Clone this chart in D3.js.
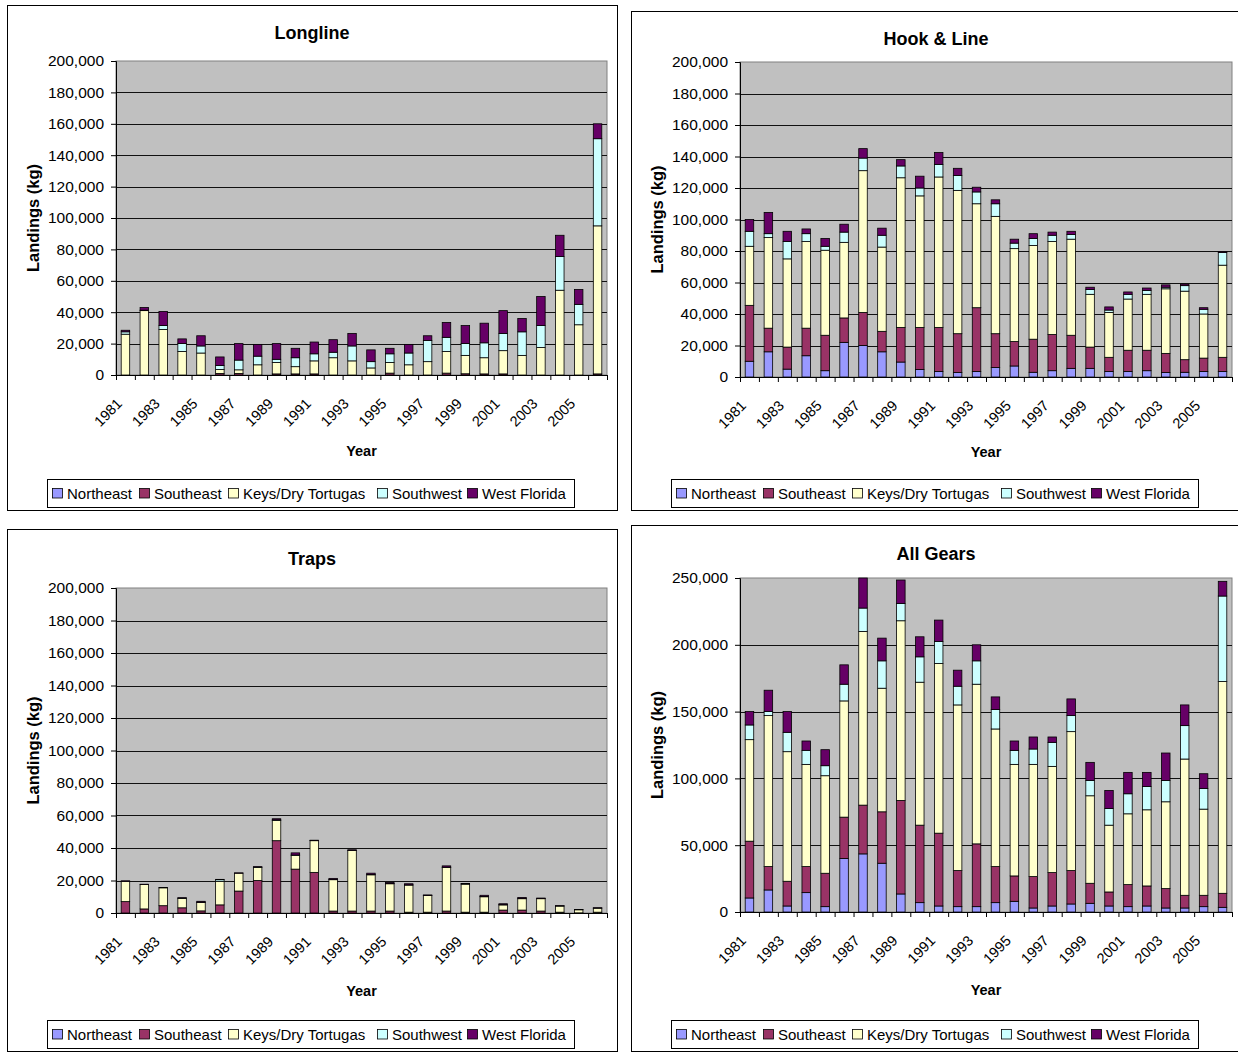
<!DOCTYPE html>
<html>
<head>
<meta charset="utf-8">
<script src="https://cdn.jsdelivr.net/npm/d3@7"></script>
<style>
  html, body { margin: 0; padding: 0; background: #fff; overflow: hidden; }
  text { font-family: "Liberation Sans", Arial, sans-serif; fill: #000; }
</style>
</head>
<body>
<div id="chart"></div>
<script>
var years = d3.range(1981, 2007).map(String);
var regions = ["Northeast", "Southeast", "Keys/Dry Tortugas", "Southwest", "West Florida"];
var regionColors = ["#9999FF", "#993366", "#FFFFCC", "#CCFFFF", "#660066"];

// values, kg per region, 1981-2006
var longlineNortheast = [0,0,0,0,0,0,0,0,0,0,0,0,0,0,0,0,0,0,0,0,0,0,0,0,0,0];
var longlineSoutheast = [0,0,0,0,0,1000,1000,0,700,700,700,0,0,0,1200,0,0,1200,800,700,700,0,0,0,0,700];
var longlineKeys = [26000,41000,29000,15000,14000,2500,2300,6500,7300,4600,8300,11000,9000,4500,6800,6500,8500,13800,11700,10300,14800,12500,17500,54000,32000,94300];
var longlineSouthwest = [1500,300,2500,5000,4500,2500,6200,5500,2000,5700,4500,3500,9500,4000,5500,7500,13500,9000,7500,9500,11000,15000,14000,21500,13000,55500];
var longlineWestFlorida = [1000,1700,9000,3000,6500,5500,10500,7500,10000,6000,7500,8000,8000,7500,3500,5500,3000,9500,11500,12500,14500,8500,18500,13500,9500,9500];

var hookNortheast = [10000,16000,5000,13500,4000,22000,20000,16000,9500,4800,3500,2800,3500,6000,7000,3000,4000,5500,5500,3500,3500,4000,2800,3000,3500,3500];
var hookSoutheast = [35500,15000,14000,17500,22500,15500,21000,13000,22000,26700,28000,24700,40500,21500,15500,21000,23000,21000,13500,9000,13500,13000,12200,8000,8500,9000];
var hookKeys = [37500,57500,56000,55000,54000,48000,90000,53500,95000,83500,95500,91000,66000,74500,59000,59500,59000,61000,33500,28500,32500,35500,41000,43500,28000,58500];
var hookSouthwest = [9500,2500,11000,5000,2500,6500,8000,7500,7500,5000,8000,9500,7500,8000,3500,4500,4000,3000,3000,1500,3000,2500,1000,3500,3000,8000];
var hookWestFlorida = [7500,13500,6500,3000,5000,5000,6000,4500,4000,7500,7500,4500,3000,2500,2500,3000,2000,2000,1500,2000,1500,1500,1500,1000,1000,500];

var trapsNortheast = [0,0,0,0,0,0,0,0,0,0,0,0,0,0,0,0,0,0,0,0,0,0,0,0,0,0];
var trapsSoutheast = [7000,2500,4500,3200,1300,5000,13500,20000,44500,27000,25000,1200,1200,1200,1200,500,500,1200,500,500,1800,1800,1200,500,100,500];
var trapsKeys = [12500,15000,11000,5800,5200,14500,11000,8000,12500,8500,19500,19300,37300,22300,16800,16700,10300,26800,17300,9500,3200,7000,7600,3800,1900,2500];
var trapsSouthwest = [0,0,0,200,100,1000,0,300,300,200,100,100,100,200,100,100,100,200,100,200,100,100,100,50,50,50];
var trapsWestFlorida = [300,200,200,200,600,200,200,200,700,1300,200,700,300,800,700,700,200,800,200,700,600,700,300,150,50,150];

var allNortheast = [10500,16500,4500,14500,4000,40000,43500,36500,13500,7000,4500,4000,4000,7000,8000,3000,4500,6000,6500,4500,4000,4500,3000,3000,4000,3500];
var allSoutheast = [42500,17500,18500,19500,25000,31000,36500,38500,70000,58000,54500,27000,47000,27000,19000,23500,25000,25000,15000,10500,16500,15000,14500,9500,8500,10500];
var allKeys = [76000,113000,97000,76500,73000,87000,130000,92500,134500,107000,127000,124000,119500,103000,83500,84000,79500,104000,65500,50000,53000,57000,65000,102000,64500,158500];
var allSouthwest = [11000,3000,14500,10500,7500,12500,17500,20500,13000,19000,16500,14000,17500,14500,10500,11500,18000,12000,11500,12500,15000,17500,16000,25000,15500,64000];
var allWestFlorida = [10000,16000,15500,7000,12000,14500,22500,17000,17500,15000,16000,12000,12000,9500,7000,9000,4000,12500,13500,13500,16000,10500,20500,15500,11000,11000];

var ticks200 = d3.range(0, 200001, 20000);
var ticks250 = d3.range(0, 250001, 50000);

var svg = d3.select("#chart").append("svg")
    .attr("width", 1238)
    .attr("height", 1053);

function drawPanel(title, series, yMax, yTicks, box, plot, legendTop) {
  var g = svg.append("g");

  g.append("rect")
    .attr("x", box.x + .5).attr("y", box.y + .5)
    .attr("width", box.w).attr("height", box.h)
    .attr("fill", "#fff").attr("stroke", "#000");

  g.append("text")
    .attr("x", box.titleX).attr("y", box.titleY)
    .attr("text-anchor", "middle")
    .style("font-size", "18px").style("font-weight", "bold")
    .text(title);

  var x = d3.scaleBand().domain(years).range([plot.x, plot.x + plot.w]).paddingInner(.55).paddingOuter(.275);
  var y = d3.scaleLinear().domain([0, yMax]).range([plot.y + plot.h, plot.y]);
  var edges = d3.scaleLinear().domain([0, 26]).range([plot.x, plot.x + plot.w]);

  g.append("rect")
    .attr("x", plot.x).attr("y", plot.y)
    .attr("width", plot.w).attr("height", plot.h)
    .attr("fill", "#C0C0C0").attr("stroke", "#808080");

  // gridlines
  g.selectAll(".grid").data(yTicks.slice(1, -1)).enter().append("line")
    .attr("x1", plot.x).attr("x2", plot.x + plot.w)
    .attr("y1", function(d) { return Math.round(y(d)) + .5; })
    .attr("y2", function(d) { return Math.round(y(d)) + .5; })
    .attr("stroke", "#111").attr("stroke-width", 1);

  // stack the five regions
  var rows = years.map(function(yr, i) {
    var row = { year: yr };
    regions.forEach(function(r, j) { row[r] = series[j][i]; });
    return row;
  });
  var stacked = d3.stack().keys(regions)(rows);

  g.selectAll(".layer").data(stacked).enter().append("g")
    .attr("fill", function(d, i) { return regionColors[i]; })
    .selectAll("rect").data(function(d) { return d; }).enter().append("rect")
    .attr("x", function(d) { return x(d.data.year); })
    .attr("width", x.bandwidth())
    .attr("y", function(d) { return y(d[1]); })
    .attr("height", function(d) { return y(d[0]) - y(d[1]); })
    .attr("stroke", "#000").attr("stroke-width", .8)
    .style("display", function(d) { return d[1] - d[0] > 0 ? null : "none"; });

  // y axis
  var yAxis = g.append("g")
    .attr("transform", "translate(" + plot.x + ",0)")
    .call(d3.axisLeft(y).tickValues(yTicks).tickFormat(d3.format(",")).tickSize(5).tickPadding(7));
  yAxis.selectAll("text").style("font-size", "15.5px");
  yAxis.select(".domain").attr("stroke", "#000");

  // x axis: tick marks at band edges, labels on every other year
  var xTicks = g.append("g")
    .attr("transform", "translate(0," + (plot.y + plot.h) + ")")
    .call(d3.axisBottom(edges).tickValues(d3.range(0, 27)).tickFormat("").tickSize(5));
  xTicks.select(".domain").attr("stroke", "#000");

  g.selectAll(".yearlabel").data(years.filter(function(d, i) { return i % 2 === 0; })).enter().append("text")
    .attr("text-anchor", "end")
    .attr("transform", function(d) {
      return "translate(" + (x(d) + x.bandwidth() / 2 - 6) + "," + (plot.y + plot.h + 26) + ") rotate(-45)";
    })
    .attr("dy", ".35em")
    .style("font-size", "14.5px")
    .text(function(d) { return d; });

  g.append("text")
    .attr("x", plot.x + plot.w / 2).attr("y", box.yearY)
    .attr("text-anchor", "middle")
    .style("font-size", "14.5px").style("font-weight", "bold")
    .text("Year");

  g.append("text")
    .attr("transform", "translate(" + (box.x + 32) + "," + (plot.y + plot.h / 2) + ") rotate(-90)")
    .attr("text-anchor", "middle")
    .style("font-size", "16.5px").style("font-weight", "bold")
    .text("Landings (kg)");

  // legend
  var legendX = plot.x - 69;
  var legendOffsets = [5, 92, 181, 330, 420];
  g.append("rect")
    .attr("x", legendX + .5).attr("y", legendTop + .5)
    .attr("width", 527).attr("height", 28)
    .attr("fill", "#fff").attr("stroke", "#000");
  var items = g.selectAll(".legenditem").data(regions).enter().append("g")
    .attr("transform", function(d, i) { return "translate(" + (legendX + legendOffsets[i]) + "," + legendTop + ")"; });
  items.append("rect")
    .attr("x", .5).attr("y", 9.5).attr("width", 10).attr("height", 9.5)
    .attr("fill", function(d, i) { return regionColors[i]; })
    .attr("stroke", "#000").attr("stroke-width", .8);
  items.append("text")
    .attr("x", 15).attr("y", 20)
    .style("font-size", "15px")
    .text(function(d) { return d; });
}

drawPanel("Longline",
  [longlineNortheast, longlineSoutheast, longlineKeys, longlineSouthwest, longlineWestFlorida],
  200000, ticks200,
  { x: 7, y: 5, w: 610, h: 505, titleX: 312, titleY: 39, yearY: 456 },
  { x: 116, y: 61, w: 491, h: 314 }, 479);

drawPanel("Hook & Line",
  [hookNortheast, hookSoutheast, hookKeys, hookSouthwest, hookWestFlorida],
  200000, ticks200,
  { x: 631, y: 11, w: 620, h: 499, titleX: 936, titleY: 45, yearY: 457 },
  { x: 740, y: 62, w: 492, h: 315 }, 479);

drawPanel("Traps",
  [trapsNortheast, trapsSoutheast, trapsKeys, trapsSouthwest, trapsWestFlorida],
  200000, ticks200,
  { x: 7, y: 529, w: 610, h: 522, titleX: 312, titleY: 565, yearY: 996 },
  { x: 116, y: 588, w: 491, h: 325 }, 1020);

drawPanel("All Gears",
  [allNortheast, allSoutheast, allKeys, allSouthwest, allWestFlorida],
  250000, ticks250,
  { x: 631, y: 525, w: 620, h: 526, titleX: 936, titleY: 560, yearY: 995 },
  { x: 740, y: 578, w: 492, h: 334 }, 1020);
</script>
</body>
</html>
